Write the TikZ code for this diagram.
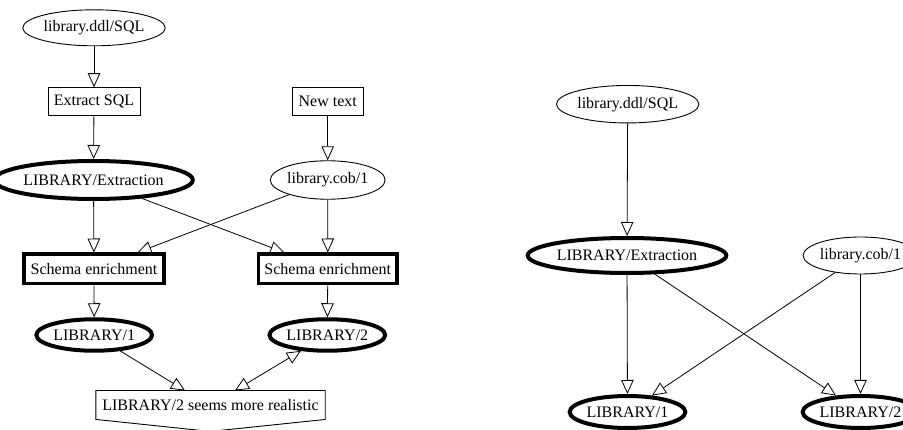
\documentclass[tikz,border=0pt]{standalone}
\usepackage{fontspec}
\setmainfont{Liberation Serif}
\usetikzlibrary{shapes.geometric,arrows.meta,calc}
\tikzset{
  every node/.style={font=\fontsize{16}{18}\selectfont, inner sep=0pt, text=black},
  thinell/.style={ellipse, draw, line width=0.9pt},
  thickell/.style={ellipse, draw, line width=4pt},
  thinbox/.style={rectangle, draw, line width=0.9pt},
  thickbox/.style={rectangle, draw, line width=3.5pt},
  edge/.style={draw, line width=0.8pt, -{Triangle[open,length=14pt,width=12.5pt]}},
  dedge/.style={draw, line width=0.8pt, {Triangle[open,length=14pt,width=12.5pt]}-{Triangle[open,length=14pt,width=12.5pt]}}
}
\begin{document}
\begin{tikzpicture}[x=1pt,y=-1pt]
\useasboundingbox (0,0) rectangle (903,430);
% left graph
\node[thinell, minimum width=115, minimum height=36] (ddl) at (94,27.8) {library.ddl/SQL};
\node[thinbox, minimum width=92, minimum height=28] (ex) at (94,101.7) {Extract SQL};
\node[thinbox, minimum width=70.5, minimum height=28] (nt) at (327.7,101.7) {New text};
\node[thickell, minimum width=159, minimum height=38] (lex) at (93.5,180) {LIBRARY/Extraction};
\node[thinell, minimum width=102, minimum height=38.5] (cob) at (327.7,180) {library.cob/1};
\node[thickbox, minimum width=140, minimum height=29.5] (s1) at (94,269) {Schema enrichment};
\node[thickbox, minimum width=138.5, minimum height=29.5] (s2) at (327.8,269) {Schema enrichment};
\node[thickell, minimum width=99, minimum height=31.5] (l1) at (94.2,335) {LIBRARY/1};
\node[thickell, minimum width=98, minimum height=31.5] (l2) at (327.3,335) {LIBRARY/2};
\node[minimum width=229, minimum height=28.5] (bot) at (210.5,405) {LIBRARY/2 seems more realistic};
\draw[line width=0.9pt] (bot.north west) -- (bot.north east) -- (bot.south east)
  -- ($(bot.south)+(0,12)$) -- (bot.south west) -- cycle;
\path[edge] (ddl) -- (ex);
\path[edge] (ex) -- (lex);
\path[edge] (nt) -- (cob);
\path[edge] (lex) -- (s1);
\path[edge] (lex) -- (s2);
\path[edge] (cob) -- (s1);
\path[edge] (cob) -- (s2);
\path[edge] (s1) -- (l1);
\path[edge] (s2) -- (l2);
\path[edge] (l1) -- ($(bot.north)+(-25.5,0)$);
\path[dedge] (l2) -- ($(bot.north)+(24.5,0)$);
% right graph
\node[thinell, minimum width=115.5, minimum height=37.5] (rddl) at (627.7,104.2) {library.ddl/SQL};
\node[thickell, minimum width=159, minimum height=35] (rlex) at (627,255.5) {LIBRARY/Extraction};
\node[thinell, minimum width=102, minimum height=37] (rcob) at (860.5,255.5) {library.cob/1};
\node[thickell, minimum width=98, minimum height=32] (rl1) at (627.5,412) {LIBRARY/1};
\node[thickell, minimum width=98, minimum height=32] (rl2) at (860.5,412) {LIBRARY/2};
\path[edge] (rddl) -- (rlex);
\path[edge] (rlex) -- (rl1);
\path[edge] (rlex) -- (rl2);
\path[edge] (rcob) -- (rl1);
\path[edge] (rcob) -- (rl2);
\end{tikzpicture}
\end{document}
